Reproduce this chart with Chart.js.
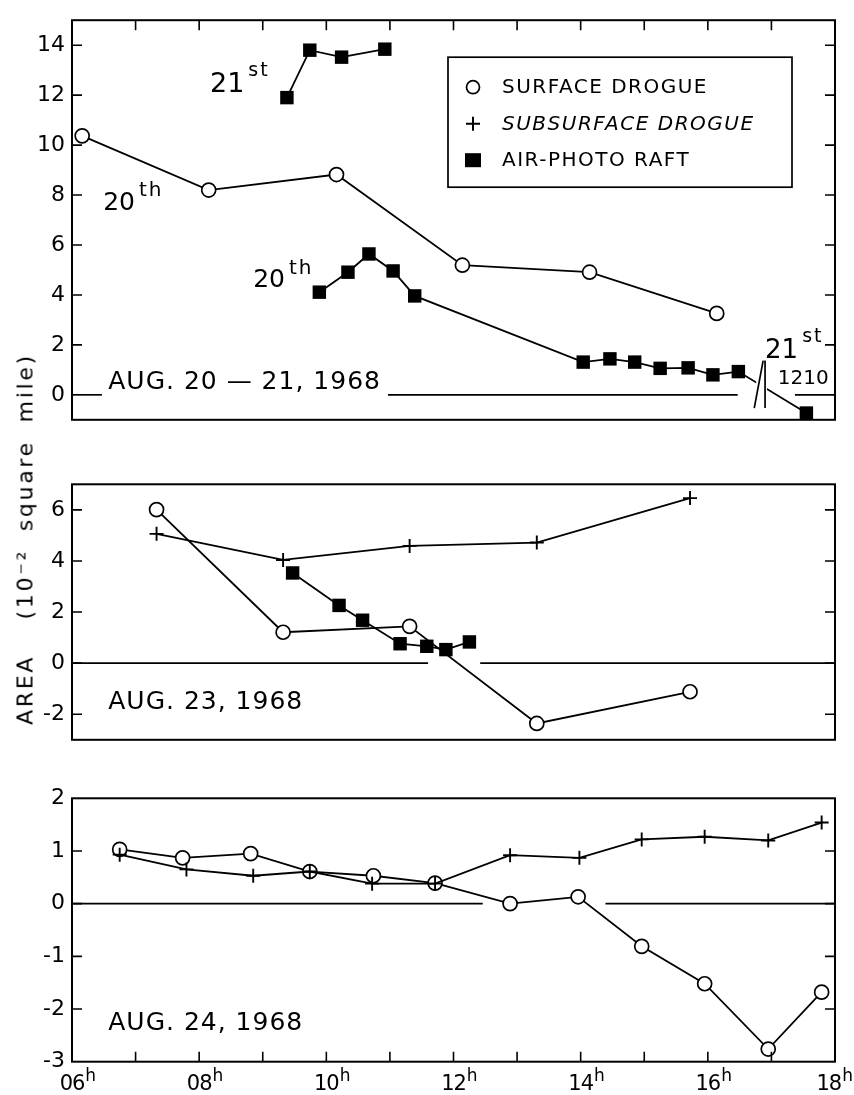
<!DOCTYPE html>
<html>
<head>
<meta charset="utf-8">
<script src="https://cdn.jsdelivr.net/npm/chart.js@4.4.1/dist/chart.umd.min.js"></script>
<style>
  body { margin: 0; background: #fff; }
  #page { position: relative; width: 854px; height: 1095px; }
  .panel { position: absolute; left: 0; width: 854px; }
  #ytitle {
    position: absolute; left: 25px; top: 539px;
    transform: translate(-50%, -50%) rotate(-90deg);
    white-space: nowrap; font: 22px 'DejaVu Sans'; letter-spacing: 2.7px; word-spacing: 8px;
  }
</style>
</head>
<body>
<div id="page">
  <div class="panel" style="top:0;height:440px"><canvas id="c1"></canvas></div>
  <div class="panel" style="top:440px;height:320px"><canvas id="c2"></canvas></div>
  <div class="panel" style="top:760px;height:335px"><canvas id="c3"></canvas></div>
  <div id="ytitle">AREA&nbsp; (10⁻² square mile)</div>
</div>
<script>
// time of day in hours, area in 10^-2 square mile

// Aug 20-21
const surf20Time = [6.16, 8.15, 10.16, 12.14, 14.14, 16.14];
const surf20Area = [10.37, 8.2, 8.82, 5.19, 4.91, 3.26];
const raft21Time = [9.38, 9.74, 10.24, 10.92];
const raft21Area = [11.9, 13.8, 13.52, 13.84];
const raft20Time = [9.89, 10.34, 10.67, 11.05, 11.39, 14.04, 14.46, 14.85, 15.25, 15.69, 16.08, 16.48, 17.55];
const raft20Area = [4.11, 4.91, 5.64, 4.96, 3.96, 1.31, 1.44, 1.31, 1.06, 1.08, 0.8, 0.93, -0.73];

// Aug 23
const surf23Time = [7.33, 9.32, 11.31, 13.31, 15.72];
const surf23Area = [6.01, 1.21, 1.44, -2.36, -1.12];
const sub23Time = [7.33, 9.32, 11.31, 13.31, 15.72];
const sub23Area = [5.06, 4.04, 4.59, 4.72, 6.46];
const raft23Time = [9.47, 10.2, 10.57, 11.16, 11.58, 11.88, 12.25];
const raft23Area = [3.53, 2.26, 1.68, 0.76, 0.66, 0.53, 0.83];

// Aug 24
const surf24Time = [6.75, 7.74, 8.81, 9.74, 10.74, 11.71, 12.89, 13.96, 14.96, 15.95, 16.95, 17.79];
const surf24Area = [1.03, 0.87, 0.95, 0.61, 0.53, 0.39, 0.0, 0.13, -0.81, -1.52, -2.76, -1.68];
const sub24Time = [6.75, 7.8, 8.85, 9.74, 10.72, 11.71, 12.89, 13.98, 14.96, 15.95, 16.95, 17.79];
const sub24Area = [0.93, 0.65, 0.53, 0.61, 0.38, 0.38, 0.92, 0.87, 1.22, 1.27, 1.2, 1.54];

// axes
const hourTicks = [7, 8, 9, 10, 11, 12, 13, 14, 15, 16, 17];
const hourLabelValues = [6, 8, 10, 12, 14, 16, 18];
const hourLabels = ['06', '08', '10', '12', '14', '16', '18'];
const yTicks20 = [0, 2, 4, 6, 8, 10, 12, 14];
const yTicks23 = [-2, 0, 2, 4, 6];
const yTicks24 = [-3, -2, -1, 0, 1, 2];

const legendRows = ['SURFACE DROGUE', 'SUBSURFACE DROGUE', 'AIR-PHOTO RAFT'];

const FONT = 'DejaVu Sans';

function pts(xs, ys) {
  return xs.map((x, i) => ({x: x, y: ys[i]}));
}

const circleStyle = {
  pointStyle: 'circle', pointRadius: 7, pointBackgroundColor: '#fff',
  pointBorderColor: '#000', pointBorderWidth: 1.7
};
const crossStyle = {
  pointStyle: 'cross', pointRadius: 7, pointBorderColor: '#000', pointBorderWidth: 1.9
};
const rectStyle = {
  pointStyle: 'rect', pointRadius: 9.5, pointBackgroundColor: '#000', pointBorderColor: '#000', pointBorderWidth: 0
};

function line(data, style) {
  return Object.assign({
    data: data, showLine: true, borderColor: '#000', borderWidth: 1.8,
    pointHoverRadius: 0, clip: false
  }, style);
}

// draws the box, inward ticks, zero line, labels and the legend
const framePlugin = {
  id: 'frame',
  beforeDatasetsDraw(chart, args, o) {
    const {ctx, scales: {x, y}} = chart;
    ctx.save();
    ctx.strokeStyle = '#000';
    ctx.lineWidth = 1.7;
    (o.zero || []).forEach(([a, b]) => {
      ctx.beginPath();
      ctx.moveTo(x.getPixelForValue(a), y.getPixelForValue(0));
      ctx.lineTo(x.getPixelForValue(b), y.getPixelForValue(0));
      ctx.stroke();
    });
    ctx.restore();
  },
  afterDatasetsDraw(chart, args, o) {
    const {ctx, chartArea: a, scales: {x, y}} = chart;
    ctx.save();
    ctx.strokeStyle = '#000';
    ctx.fillStyle = '#000';

    // break in the raft line
    if (o.breakMark) {
      const b = o.breakMark;
      ctx.fillStyle = '#fff';
      ctx.fillRect(x.getPixelForValue(b.from), y.getPixelForValue(b.hi),
        x.getPixelForValue(b.to) - x.getPixelForValue(b.from), y.getPixelForValue(b.lo) - y.getPixelForValue(b.hi));
      ctx.fillStyle = '#000';
      ctx.lineWidth = 1.7;
      ctx.beginPath();
      ctx.moveTo(x.getPixelForValue(b.s1[0]), y.getPixelForValue(b.lo));
      ctx.lineTo(x.getPixelForValue(b.s1[1]), y.getPixelForValue(b.hi));
      ctx.moveTo(x.getPixelForValue(b.s2[0]), y.getPixelForValue(b.lo));
      ctx.lineTo(x.getPixelForValue(b.s2[1]), y.getPixelForValue(b.hi));
      ctx.stroke();
    }

    ctx.lineWidth = 2;
    ctx.strokeRect(a.left, a.top, a.right - a.left, a.bottom - a.top);
    ctx.lineWidth = 1.6;
    ctx.beginPath();
    (o.sideTicks || []).forEach(v => {
      const py = y.getPixelForValue(v);
      ctx.moveTo(a.left, py); ctx.lineTo(a.left + 10, py);
      ctx.moveTo(a.right, py); ctx.lineTo(a.right - 10, py);
    });
    (o.topTicks || []).forEach(v => {
      const px = x.getPixelForValue(v);
      ctx.moveTo(px, a.top); ctx.lineTo(px, a.top + 10);
    });
    (o.bottomTicks || []).forEach(v => {
      const px = x.getPixelForValue(v);
      ctx.moveTo(px, a.bottom); ctx.lineTo(px, a.bottom - 10);
    });
    ctx.stroke();

    // hour labels with raised "h"
    if (o.hourLabels) {
      ctx.textBaseline = 'alphabetic';
      ctx.textAlign = 'left';
      hourLabelValues.forEach((v, i) => {
        ctx.font = '21px ' + FONT;
        ctx.letterSpacing = '-1px';
        const w = ctx.measureText(hourLabels[i]).width;
        ctx.font = '17px ' + FONT;
        const hw = ctx.measureText('h').width;
        let left = x.getPixelForValue(v) - w / 2;
        // keep the last label inside the canvas
        left = Math.min(left, chart.width - 3 - w - hw);
        ctx.font = '21px ' + FONT;
        ctx.fillText(hourLabels[i], left, a.bottom + 28.5);
        ctx.font = '17px ' + FONT;
        ctx.fillText('h', left + w + 1, a.bottom + 19);
      });
    }

    // text labels
    ctx.textBaseline = 'alphabetic';
    ctx.textAlign = 'left';
    (o.notes || []).forEach(n => {
      const px = x.getPixelForValue(n.t);
      const py = y.getPixelForValue(n.v);
      ctx.font = n.size + 'px ' + FONT;
      ctx.letterSpacing = (n.ls || 0) + 'px';
      ctx.fillText(n.text, px, py);
      if (n.sup) {
        const w = ctx.measureText(n.text).width;
        ctx.font = n.supSize + 'px ' + FONT;
        ctx.letterSpacing = '2px';
        ctx.fillText(n.sup, px + w + 4, py - n.rise);
      }
    });

    // legend box
    if (o.legend) {
      const L = o.legend;
      const lx = a.left + L.dx, ly = a.top + L.dy;
      ctx.letterSpacing = '0px';
      ctx.lineWidth = 1.7;
      ctx.strokeRect(lx, ly, L.w, L.h);
      L.rows.forEach((txt, i) => {
        const cy = ly + 30 + i * 36.5;
        const mx = lx + 25;
        ctx.lineWidth = 1.7;
        if (i === 0) {
          ctx.beginPath(); ctx.arc(mx, cy, 6.5, 0, Math.PI * 2); ctx.stroke();
        } else if (i === 1) {
          ctx.beginPath();
          ctx.moveTo(mx - 7, cy); ctx.lineTo(mx + 7, cy);
          ctx.moveTo(mx, cy - 7); ctx.lineTo(mx, cy + 7);
          ctx.lineWidth = 2; ctx.stroke();
        } else {
          ctx.fillRect(mx - 8, cy - 7, 16, 14);
        }
        ctx.font = (i === 1 ? 'italic ' : '') + '20px ' + FONT;
        ctx.letterSpacing = '1.5px';
        ctx.textBaseline = 'middle';
        ctx.fillText(txt, lx + 54, cy + 1);
      });
    }
    ctx.restore();
  }
};

function yAxis(min, max, ticks) {
  return {
    min: min, max: max,
    afterBuildTicks: s => { s.ticks = ticks.map(v => ({value: v})); },
    afterFit: s => { s.width = 72; },
    grid: {display: false, drawTicks: false},
    border: {display: false},
    ticks: {color: '#000', font: {family: FONT, size: 22}, padding: 7}
  };
}

function hiddenX() {
  return {type: 'linear', min: 6, max: 18, display: false};
}

function makeChart(id, datasets, scales, padding, frame) {
  return new Chart(document.getElementById(id), {
    type: 'scatter',
    data: {datasets: datasets},
    options: {
      responsive: true, maintainAspectRatio: false, animation: false, events: [],
      layout: {padding: padding},
      scales: scales,
      plugins: {legend: {display: false}, tooltip: {enabled: false}, frame: frame}
    },
    plugins: [framePlugin]
  });
}

// Aug 20-21
makeChart('c1', [
  line(pts(surf20Time, surf20Area), circleStyle),
  line(pts(raft21Time, raft21Area), rectStyle),
  line(pts(raft20Time, raft20Area), rectStyle)
], {x: hiddenX(), y: yAxis(-1, 15, yTicks20)},
{top: 13, bottom: 8, left: 0, right: 19},
{
  zero: [[6, 6.47], [10.97, 16.47], [17.37, 18]],
  sideTicks: yTicks20.slice(1),
  topTicks: hourTicks,
  breakMark: {from: 16.76, to: 16.93, lo: -0.53, hi: 1.37, s1: [16.73, 16.87], s2: [16.9, 16.9]},
  notes: [
    {t: 8.17, v: 12.14, text: '21', sup: 'st', size: 27, supSize: 19, rise: 16},
    {t: 6.49, v: 7.4, text: '20', sup: 'th', size: 25, supSize: 20, rise: 14},
    {t: 8.85, v: 4.31, text: '20', sup: 'th', size: 25, supSize: 20, rise: 13},
    {t: 16.9, v: 1.49, text: '21', sup: 'st', size: 26, supSize: 19, rise: 16},
    {t: 17.1, v: 0.42, text: '1210', size: 20},
    {t: 6.57, v: 0.23, text: 'AUG. 20 — 21, 1968', size: 25, ls: 1}
  ],
  legend: {dx: 376, dy: 37, w: 344, h: 130, rows: legendRows}
});

// Aug 23
makeChart('c2', [
  line(pts(sub23Time, sub23Area), crossStyle),
  line(pts(surf23Time, surf23Area), circleStyle),
  line(pts(raft23Time, raft23Area), rectStyle)
], {x: hiddenX(), y: yAxis(-3, 7, yTicks23)},
{top: 44.3, bottom: 14.3, left: 0, right: 19},
{
  zero: [[6, 11.6], [12.42, 18]],
  sideTicks: yTicks23,
  notes: [
    {t: 6.57, v: -1.78, text: 'AUG. 23, 1968', size: 25, ls: 1}
  ]
});

// Aug 24
makeChart('c3', [
  line(pts(sub24Time, sub24Area), crossStyle),
  line(pts(surf24Time, surf24Area), circleStyle)
], {x: hiddenX(), y: yAxis(-3, 2, yTicks24)},
{top: 38.3, bottom: 33.3, left: 0, right: 19},
{
  zero: [[6, 12.46], [14.39, 18]],
  sideTicks: yTicks24.slice(1, -1),
  bottomTicks: hourTicks,
  hourLabels: true,
  notes: [
    {t: 6.57, v: -2.39, text: 'AUG. 24, 1968', size: 25, ls: 1}
  ]
});
</script>
</body>
</html>
